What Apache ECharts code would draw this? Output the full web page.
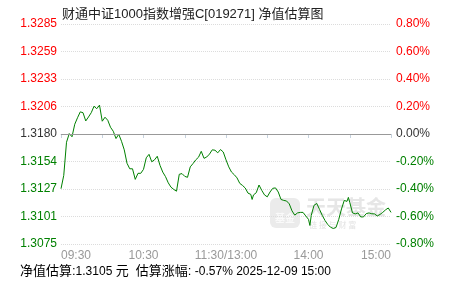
<!DOCTYPE html>
<html><head><meta charset="utf-8">
<script src="https://cdn.jsdelivr.net/npm/echarts@6/dist/echarts.min.js"></script>
<style>html,body{margin:0;padding:0;background:#fff}#c{width:451px;height:281px}</style>
</head><body><div id="c"></div>
<script>
var title = '财通中证1000指数增强C[019271] 净值估算图';
var baseNav = 1.3180;
var minutes = [0,2,4,6,8,10,12,14,16,18,20,22,24,26,28,30,32,34,36,38,40,42,44,46,48,50,52,54,56,58,60,62,64,66,68,70,72,74,76,78,80,82,84,86,88,90,92,94,96,98,100,102,104,106,108,110,112,114,116,118,120,122,124,126,128,130,132,134,136,138,139,140,142,144,146,148,150,152,154,156,158,160,162,164,166,168,170,172,174,176,178,180,181,182,184,186,188,190,192,194,196,198,200,202,204,206,208,209,210,212,214,216,218,220,222,224,226,228,230,232,234,236,238,240];
var changePct = [-0.398,-0.301,-0.060,0.003,-0.020,0.071,0.118,0.161,0.155,0.095,0.124,0.155,0.202,0.184,0.210,0.093,0.122,0.100,0.049,0.020,-0.033,-0.002,-0.053,-0.115,-0.213,-0.253,-0.253,-0.330,-0.286,-0.286,-0.257,-0.173,-0.148,-0.202,-0.188,-0.162,-0.228,-0.277,-0.310,-0.355,-0.387,-0.403,-0.416,-0.293,-0.288,-0.308,-0.315,-0.239,-0.215,-0.188,-0.169,-0.126,-0.177,-0.167,-0.146,-0.115,-0.118,-0.137,-0.113,-0.131,-0.188,-0.239,-0.277,-0.296,-0.319,-0.359,-0.374,-0.393,-0.430,-0.439,-0.476,-0.443,-0.427,-0.371,-0.410,-0.443,-0.457,-0.422,-0.395,-0.392,-0.422,-0.476,-0.483,-0.487,-0.508,-0.559,-0.590,-0.574,-0.570,-0.570,-0.596,-0.621,-0.665,-0.592,-0.519,-0.505,-0.548,-0.592,-0.629,-0.658,-0.678,-0.687,-0.680,-0.621,-0.545,-0.483,-0.490,-0.461,-0.497,-0.574,-0.581,-0.574,-0.603,-0.603,-0.579,-0.574,-0.580,-0.581,-0.596,-0.585,-0.570,-0.552,-0.538,-0.570];
var timeLabels = {0:'09:30',60:'10:30',120:'11:30/13:00',180:'14:00',240:'15:00'};
var estNav = '1.3105';
var estChange = '-0.57%';
var estTime = '2025-12-09 15:00';

var FONT = 'Liberation Sans, Noto Sans CJK SC, sans-serif';
var RED = '#ff0000', GREEN = '#008000', DARK = '#333333';
var data = minutes.map(function(m,i){return [m, changePct[i]];});
function colorKey(v){ v = Math.round(v*100)/100; return v>0?'r':(v<0?'g':'k'); }
var rich = {
  r:{color:RED,fontSize:12,fontFamily:FONT},
  g:{color:GREEN,fontSize:12,fontFamily:FONT},
  k:{color:DARK,fontSize:12,fontFamily:FONT}
};
var chart = echarts.init(document.getElementById('c'), null, {renderer:'canvas'});
chart.setOption({
  animation:false,
  backgroundColor:'#fff',
  title:{text:title,left:57,top:3,textStyle:{fontSize:13,fontWeight:'normal',color:'#222',fontFamily:FONT}},
  grid:{left:61,right:60,top:24,bottom:37},
  xAxis:{type:'value',min:0,max:240,interval:30,
    axisLine:{show:true,lineStyle:{color:'#c6d2de',width:1}},
    axisTick:{show:true,length:4,lineStyle:{color:'#c6d2de'}},
    splitLine:{show:false},
    axisLabel:{margin:6,color:'#999',fontSize:12,fontFamily:FONT,showMinLabel:true,showMaxLabel:true,
      alignMinLabel:'left',alignMaxLabel:'right',
      formatter:function(v){return timeLabels[v]||'';}}
  },
  yAxis:[
    {type:'value',min:-0.8,max:0.8,interval:0.2,position:'left',
      axisLine:{show:false},axisTick:{show:false},
      splitLine:{show:true,lineStyle:{color:'#dcdcdc',type:'dotted',width:1}},
      axisLabel:{margin:4,rich:rich,formatter:function(v){
        var k=colorKey(v); return '{'+k+'|'+(baseNav*(1+v/100)).toFixed(4)+'}';}}
    },
    {type:'value',min:-0.8,max:0.8,interval:0.2,position:'right',
      axisLine:{show:false},axisTick:{show:false},splitLine:{show:false},
      axisLabel:{margin:5,rich:rich,formatter:function(v){
        var k=colorKey(v); var t=(Math.round(v*100)/100).toFixed(2); if(t==='-0.00')t='0.00'; return '{'+k+'|'+t+'%}';}}
    }
  ],
  graphic:[
    {type:'group',z:0,silent:true,children:[
      {type:'rect',shape:{x:270,y:198,width:30,height:30,r:6},style:{fill:'#ebebeb'}},
      {type:'text',style:{x:285,y:219,text:'基金',fill:'#fafafa',fontSize:10,fontWeight:'bold',align:'center',verticalAlign:'middle',fontFamily:FONT}},
      {type:'text',style:{x:306,y:207,text:'天天基金',fill:'#e6e6e6',fontSize:20,fontWeight:'bold',verticalAlign:'middle',fontFamily:'Noto Sans CJK SC'}},
      {type:'text',style:{x:309,y:225,text:'链 接 与 财 富',fill:'#e3e3e3',fontSize:8,verticalAlign:'middle',fontFamily:'Noto Sans CJK SC'}}
    ]},
    {type:'text',left:20,top:265,z:10,style:{
      text:'{k|净值估算:}{g|'+estNav+'} {k|元  估算涨幅:} {g|'+estChange+'} {t|'+estTime+'}',
      rich:{
        k:{fontSize:13,color:'#222',fontFamily:FONT},
        g:{fontSize:12,color:GREEN,fontFamily:FONT},
        t:{fontSize:12,color:'#666',fontFamily:FONT}
      }}}
  ],
  series:[{type:'line',yAxisIndex:1,data:data,showSymbol:false,symbol:'none',
    lineStyle:{color:GREEN,width:1},z:3,
    markLine:{silent:true,symbol:'none',label:{show:false},
      lineStyle:{color:'#999',type:'solid',width:1},
      data:[{yAxis:0}]}
  }]
});
</script></body></html>
